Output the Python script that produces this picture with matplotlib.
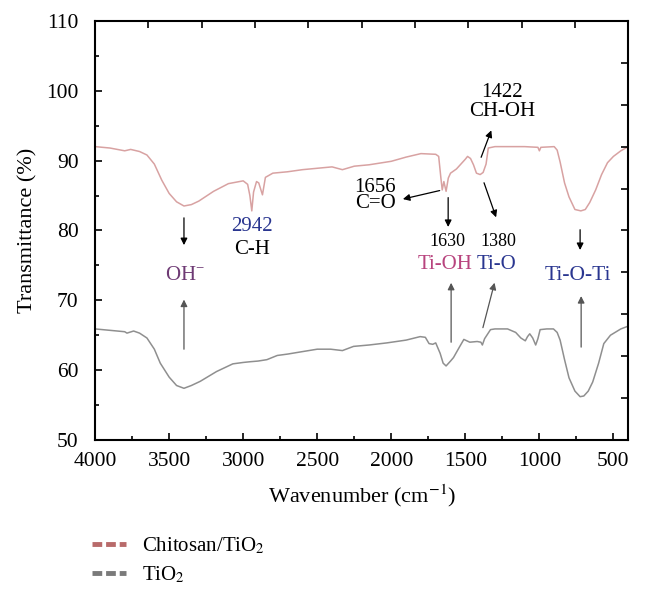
import matplotlib
matplotlib.use("Agg")
import matplotlib.pyplot as plt

# FTIR spectra
wn_chit = [4000, 3900, 3800, 3760, 3700, 3650, 3600, 3550, 3500, 3450, 3400, 3350,
           3300, 3200, 3100, 3000, 2970, 2955, 2942, 2930, 2910, 2895, 2870, 2850,
           2800, 2700, 2600, 2500, 2400, 2330, 2250, 2150, 2000, 1900, 1800, 1700,
           1680, 1665, 1656, 1645, 1630, 1615, 1600, 1560, 1530, 1500, 1485, 1465,
           1445, 1425, 1400, 1380, 1360, 1345, 1300, 1200, 1100, 1010, 1000, 990,
           900, 880, 860, 830, 800, 760, 720, 690, 660, 620, 580, 540, 500, 450, 400]
t_chit = [92.0, 91.8, 91.4, 91.6, 91.3, 90.8, 89.5, 87.2, 85.3, 84.1, 83.5, 83.7,
          84.2, 85.6, 86.7, 87.1, 86.6, 85.0, 82.8, 85.5, 87.0, 86.8, 85.1, 87.6,
          88.2, 88.4, 88.7, 88.9, 89.1, 88.7, 89.2, 89.4, 89.9, 90.5, 91.0, 90.9,
          90.6, 87.5, 85.8, 87.0, 85.6, 87.5, 88.2, 88.8, 89.5, 90.2, 90.6, 90.3,
          89.4, 88.2, 88.0, 88.3, 89.5, 91.8, 92.0, 92.0, 92.0, 91.9, 91.4, 91.9,
          92.0, 91.5, 89.8, 86.8, 84.8, 83.0, 82.8, 83.0, 84.0, 85.8, 88.0, 89.7,
          90.6, 91.4, 92.0]

wn_tio2 = [4000, 3900, 3800, 3785, 3740, 3700, 3650, 3600, 3560, 3500, 3450, 3400,
           3350, 3290, 3180, 3070, 3000, 2955, 2900, 2840, 2770, 2700, 2615, 2500,
           2410, 2330, 2255, 2150, 2030, 1900, 1805, 1770, 1745, 1720, 1700, 1670,
           1650, 1630, 1600, 1580, 1540, 1510, 1490, 1470, 1420, 1395, 1385, 1370,
           1330, 1300, 1215, 1160, 1125, 1095, 1080, 1065, 1045, 1025, 1010, 995,
           950, 905, 880, 860, 830, 800, 760, 725, 700, 670, 640, 600, 565, 520,
           450, 400]
t_tio2 = [65.9, 65.7, 65.5, 65.3, 65.6, 65.3, 64.6, 63.0, 61.0, 59.0, 57.8, 57.4,
          57.8, 58.4, 59.8, 60.9, 61.1, 61.2, 61.3, 61.5, 62.1, 62.3, 62.6, 63.0,
          63.0, 62.8, 63.4, 63.6, 63.9, 64.3, 64.8, 64.7, 63.8, 63.7, 63.9, 62.4,
          61.0, 60.6, 61.3, 61.8, 63.3, 64.4, 64.2, 64.0, 64.1, 64.0, 63.6, 64.5,
          65.8, 65.9, 65.9, 65.4, 64.6, 64.2, 64.8, 65.2, 64.6, 63.6, 64.5, 65.8,
          65.9, 65.9, 65.4, 64.3, 61.5, 58.9, 57.0, 56.2, 56.3, 57.0, 58.3, 61.0,
          63.8, 65.0, 65.9, 66.3]

series_names = ["Chitosan/TiO$_2$", "TiO$_2$"]

plt.rcParams['font.family'] = ['Liberation Serif', 'DejaVu Serif']
plt.rcParams['mathtext.fontset'] = 'stix'

fig = plt.figure(figsize=(6.47, 5.97), dpi=100)
ax = fig.add_axes([0.147, 0.263, 0.824, 0.702])

ax.plot(wn_chit, t_chit, color='#d8a2a2', lw=1.1)
ax.plot(wn_tio2, t_tio2, color='#8f8f8f', lw=1.1)

ax.set_xlim(4000, 400)
ax.set_ylim(50, 110)
ax.set_xticks([4000, 3500, 3000, 2500, 2000, 1500, 1000, 500])
ax.set_xticks(range(3750, 400, -500), minor=True)
ax.set_yticks(range(50, 111, 10))
ax.set_yticks(range(55, 110, 10), minor=True)
ax.tick_params(which='both', direction='in', labelsize=15.5, top=False, right=False)
ax.tick_params(which='major', length=5, width=1.2)
ax.tick_params(which='minor', length=3, width=1.2)
ax.tick_params(axis='x', pad=9)
ax.tick_params(axis='y', pad=12)
for s in ax.spines.values():
    s.set_linewidth(1.5)
ax.set_xlabel("Wavenumber (cm$^{-1}$)", fontsize=16, labelpad=8)
ax.set_ylabel("Transmittance (%)", fontsize=16, labelpad=6)

# top/right ticks of the original frame (unlabelled, evenly spaced)
ax2 = fig.add_axes(ax.get_position(), frameon=False)
ax2.set_xlim(0, 1)
ax2.set_ylim(0, 1)
ticks = [i / 10 for i in range(1, 10)]
ax2.set_xticks(ticks)
ax2.set_yticks(ticks)
ax2.tick_params(direction='in', length=5, width=1.2, top=True, right=True,
                bottom=False, left=False, labelbottom=False, labelleft=False)

blue = '#2a3690'
purple = '#6e3a74'
pink = '#b8447e'
arr = dict(arrowstyle='-|>', color='k', lw=0.9, mutation_scale=10)
arr_g = dict(arrowstyle='-|>', color='#555555', lw=0.9, mutation_scale=10)

ax.text(2940, 80.5, "2942", color=blue, fontsize=15, ha='center', va='center')
ax.text(2940, 77.3, "C-H", color='k', fontsize=15, ha='center', va='center')

ax.text(3392, 73.6, "OH$^{\\mathregular{-}}$", color=purple, fontsize=15,
        ha='center', va='center')
ax.annotate("", xy=(3400, 77.5), xytext=(3400, 82.2), arrowprops=arr)
ax.annotate("", xy=(3400, 70.5), xytext=(3400, 62.6), arrowprops=arr_g)

ax.text(2109, 85.0, "1656\nC=O", color='k', fontsize=15, ha='center',
        va='center', linespacing=0.8)
ax.annotate("", xy=(1940, 84.4), xytext=(1655, 85.8), arrowprops=arr)

ax.text(1251, 98.4, "1422\nCH-OH", color='k', fontsize=15, ha='center',
        va='center', linespacing=1.0)
ax.annotate("", xy=(1318, 94.7), xytext=(1400, 90.1), arrowprops=arr)

ax.text(1623, 78.4, "1630", color='k', fontsize=13, ha='center', va='center')
ax.text(1636, 75.1, "Ti-OH", color=pink, fontsize=15, ha='center', va='center')
ax.annotate("", xy=(1616, 80.1), xytext=(1616, 85.1), arrowprops=arr)
ax.annotate("", xy=(1596, 72.9), xytext=(1596, 63.6), arrowprops=arr_g)

ax.text(1280, 78.4, "1380", color='k', fontsize=13, ha='center', va='center')
ax.text(1290, 75.1, "Ti-O", color=blue, fontsize=15, ha='center', va='center')
ax.annotate("", xy=(1286, 81.5), xytext=(1380, 87.2), arrowprops=arr)
ax.annotate("", xy=(1298, 72.9), xytext=(1386, 65.7), arrowprops=arr_g)

ax.text(737, 73.6, "Ti-O-Ti", color=blue, fontsize=15.5, ha='center', va='center')
ax.annotate("", xy=(725, 76.8), xytext=(725, 80.5), arrowprops=arr)
ax.annotate("", xy=(718, 71.0), xytext=(718, 62.9), arrowprops=arr_g)

# legend below the plot
h1, = ax.plot([], [], color='#b86a6a', lw=3.5, ls=(0, (2, 0.8)))
h2, = ax.plot([], [], color='#7a7a7a', lw=3.5, ls=(0, (2, 0.8)))
fig.legend([h1, h2], series_names, loc='upper left', bbox_to_anchor=(0.129, 0.117),
           frameon=False, fontsize=15, handlelength=1.65, handletextpad=0.77,
           labelspacing=0.42, borderaxespad=0)

fig.savefig("out.png", dpi=100)
